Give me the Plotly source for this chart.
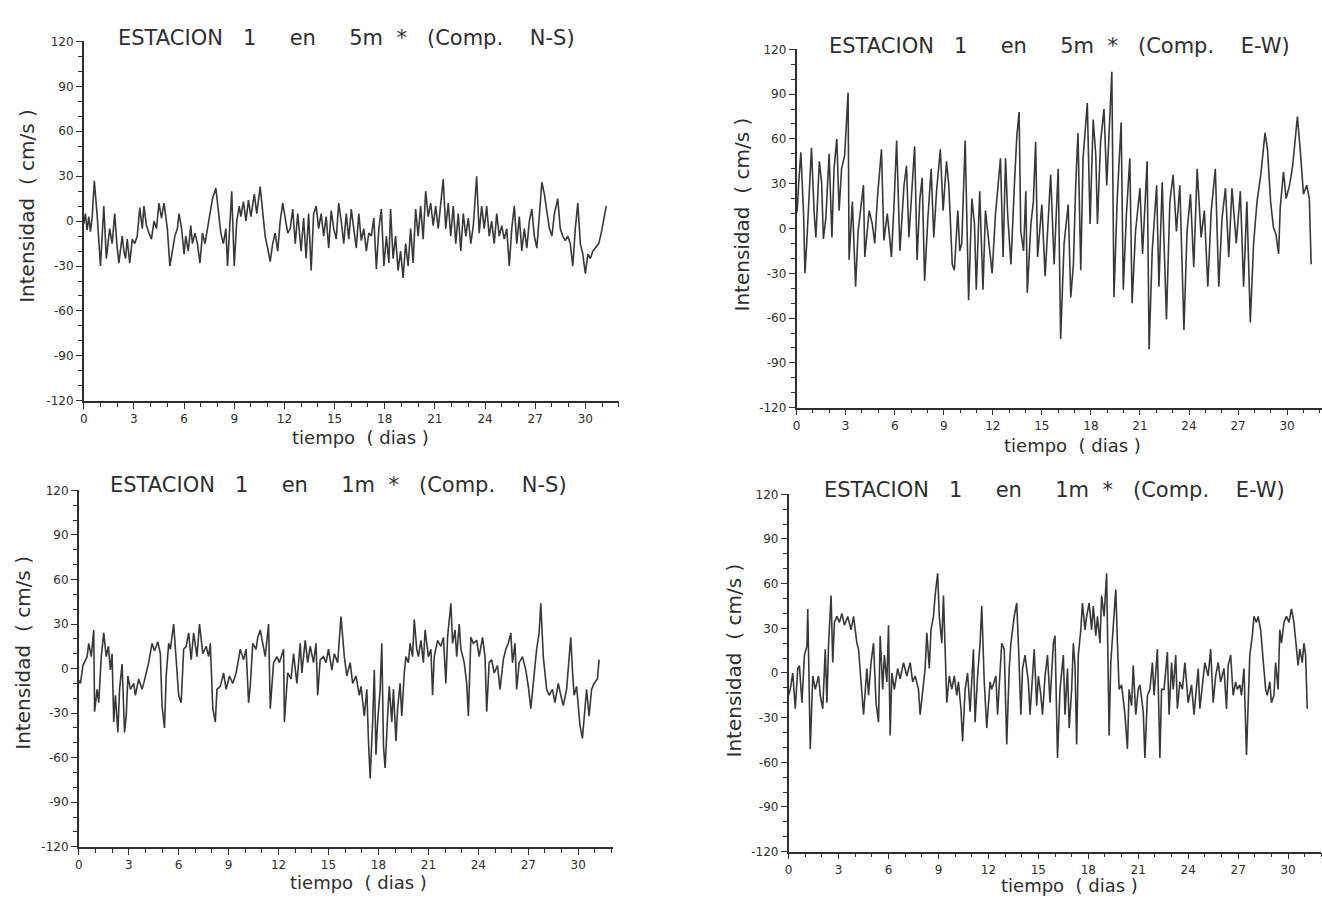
import plotly.graph_objects as go

# Estación 1, 5 m, componente N-S
dias_5m_ns = [0.0, 0.1, 0.2, 0.3, 0.4, 0.5, 0.63, 0.8, 1.0, 1.2, 1.35, 1.55, 1.7, 1.85, 2.0, 2.1, 2.3, 2.4, 2.5, 2.6,
              2.75, 2.9, 3.05, 3.2, 3.35, 3.5, 3.6, 3.75, 3.9, 4.05, 4.2, 4.35, 4.5, 4.65, 4.8, 5.0, 5.15, 5.3, 5.45, 5.6,
              5.7, 5.85, 6.0, 6.1, 6.25, 6.4, 6.5, 6.65, 6.8, 6.95, 7.1, 7.25, 7.4, 7.55, 7.7, 7.9, 8.05, 8.2, 8.35, 8.5,
              8.6, 8.75, 8.85, 9.0, 9.15, 9.3, 9.4, 9.55, 9.7, 9.85, 10.0, 10.2, 10.35, 10.55, 10.7, 10.85, 11.0, 11.15, 11.3, 11.45,
              11.6, 11.75, 11.9, 12.05, 12.2, 12.35, 12.5, 12.65, 12.8, 13.0, 13.15, 13.3, 13.45, 13.6, 13.75, 13.9, 14.05, 14.2, 14.35, 14.5,
              14.65, 14.8, 14.95, 15.1, 15.25, 15.4, 15.55, 15.7, 15.85, 16.0, 16.15, 16.3, 16.45, 16.6, 16.75, 16.9, 17.05, 17.2, 17.35, 17.5,
              17.65, 17.8, 17.95, 18.1, 18.25, 18.35, 18.5, 18.65, 18.8, 18.95, 19.1, 19.25, 19.4, 19.55, 19.7, 19.85, 20.0, 20.15, 20.3, 20.45,
              20.6, 20.75, 20.9, 21.05, 21.2, 21.35, 21.5, 21.65, 21.8, 21.95, 22.1, 22.25, 22.4, 22.55, 22.7, 22.85, 23.0, 23.15, 23.3, 23.5,
              23.65, 23.8, 23.95, 24.1, 24.25, 24.4, 24.55, 24.7, 24.85, 25.0, 25.15, 25.3, 25.45, 25.6, 25.75, 25.9, 26.05, 26.2, 26.35, 26.5,
              26.65, 26.8, 26.95, 27.1, 27.25, 27.4, 27.55, 27.7, 27.85, 28.0, 28.15, 28.35, 28.5, 28.65, 28.8, 28.95, 29.1, 29.25, 29.4, 29.55,
              29.7, 29.85, 30.0, 30.15, 30.3, 30.45, 30.6, 30.8, 30.95, 31.1, 31.25]
vel_5m_ns = [-2, 5, -6, 3, -7, 2, 27, 4, -30, 10, -25, -5, -15, 5, -18, -28, -10, -20, -25, -12,
             -28, -12, -15, -10, 9, -5, 10, -3, -8, -12, 0, -5, 12, 2, 12, -5, -30, -20, -10, -5,
             5, -5, -22, -10, -20, -3, -15, -8, -15, -28, -8, -15, -5, 5, 15, 22, 5, -8, -15, -5,
             -30, 0, 20, -30, 0, 10, 3, 13, 0, 14, 3, 18, 5, 23, 5, -10, -18, -27, -15, -8,
             -20, 0, 12, 2, -8, -5, 8, -15, 5, -20, 2, -25, 5, -33, 5, 10, -5, 5, -10, 3,
             -18, 7, -5, -12, 12, 0, -15, 5, -12, 8, -5, -18, 5, -13, -5, -20, -8, -10, 2, -32,
             -5, 8, -30, -10, -28, 8, -25, -10, -33, -20, -38, -15, -30, -5, -28, 8, -10, 10, -12, 20,
             3, 12, -3, 10, -5, 12, 28, -5, 12, -10, 10, -15, 5, -20, 5, -10, 2, -15, -3, 30,
             -8, 10, -5, 10, -10, 0, -15, 5, -10, -3, -12, -5, -30, -5, 10, -15, 3, -20, -5, -18,
             0, 8, -10, -18, 5, 26, 18, 5, -5, -10, 5, 15, -5, -10, -13, -10, -15, -30, -5, 12,
             -15, -22, -35, -22, -25, -20, -18, -15, -8, 0, 10]

# Estación 1, 5 m, componente E-W
dias_5m_ew = [0.0, 0.05, 0.12, 0.26, 0.43, 0.51, 0.62, 0.77, 0.91, 1.08, 1.18, 1.39, 1.53, 1.64, 1.79, 1.99, 2.16, 2.29, 2.46, 2.6,
              2.75, 2.94, 3.15, 3.21, 3.41, 3.61, 3.76, 4.09, 4.17, 4.44, 4.63, 4.78, 4.94, 5.19, 5.34, 5.55, 5.8, 5.95, 6.12, 6.32,
              6.57, 6.72, 6.87, 7.07, 7.22, 7.37, 7.54, 7.68, 7.83, 8.03, 8.23, 8.39, 8.56, 8.79, 8.96, 9.17, 9.31, 9.52, 9.65, 9.86,
              9.98, 10.1, 10.31, 10.52, 10.72, 10.88, 10.99, 11.2, 11.4, 11.55, 11.75, 11.96, 12.16, 12.3, 12.47, 12.63, 12.78, 12.91, 13.11, 13.32,
              13.47, 13.61, 13.71, 13.88, 14.02, 14.11, 14.33, 14.48, 14.62, 14.74, 15.0, 15.2, 15.41, 15.54, 15.75, 16.0, 16.15, 16.36, 16.61, 16.77,
              16.93, 17.07, 17.21, 17.38, 17.52, 17.78, 17.95, 18.14, 18.3, 18.4, 18.59, 18.8, 18.97, 19.1, 19.28, 19.41, 19.61, 19.85, 19.98, 20.17,
              20.38, 20.52, 20.73, 21.0, 21.16, 21.44, 21.56, 21.75, 22.02, 22.16, 22.36, 22.62, 22.83, 23.03, 23.23, 23.44, 23.69, 23.88, 24.09, 24.29,
              24.5, 24.74, 24.94, 25.15, 25.36, 25.61, 25.82, 26.02, 26.23, 26.43, 26.63, 26.89, 27.14, 27.34, 27.54, 27.75, 27.95, 28.16, 28.39, 28.65,
              28.8, 28.99, 29.16, 29.32, 29.48, 29.58, 29.78, 29.94, 30.15, 30.34, 30.63, 30.8, 31.0, 31.2, 31.36, 31.47]
vel_5m_ew = [10, 14, 29, 51, 9, -30, -10, 29, 54, 9, -6, 45, 31, -7, 7, 50, -6, 40, 60, 12,
             40, 49, 91, -21, 18, -39, -2, 29, -19, 12, 3, -10, 20, 53, -8, 10, -19, 14, 59, -15,
             29, 42, -6, 29, 55, -21, 20, 34, -35, 7, 40, -6, 25, 53, 12, 45, 29, -24, -28, 12,
             -15, -10, 59, -48, 20, 3, -41, 25, -41, 12, -10, -30, 9, 27, 47, -19, 47, 9, -24, 29,
             62, 78, -2, -15, 25, -43, 3, 18, 58, -19, 16, -32, 14, 36, -24, 40, -74, -10, 16, -46,
             -24, 29, 64, -28, 47, 84, 3, 73, 49, 3, 58, 80, 29, 62, 105, -46, 20, 71, -41, 9,
             47, -50, -2, 27, -17, 45, -81, -15, 29, -39, 31, -61, 18, 36, -2, 29, -68, -2, 23, -26,
             40, -6, 12, -39, 12, 40, -39, 7, 27, -19, 27, -10, 25, -39, 18, -63, -10, 18, 36, 64,
             53, 18, 1, -4, -17, 14, 38, 20, 29, 42, 75, 53, 23, 29, 20, -24]

# Estación 1, 1 m, componente N-S
dias_1m_ns = [0.0, 0.1, 0.25, 0.5, 0.6, 0.75, 0.9, 0.95, 1.1, 1.2, 1.35, 1.5, 1.65, 1.78, 1.9, 2.0, 2.1, 2.2, 2.35, 2.45,
              2.6, 2.75, 2.85, 2.95, 3.1, 3.3, 3.4, 3.6, 3.8, 3.9, 4.2, 4.4, 4.55, 4.75, 4.9, 5.0, 5.15, 5.25, 5.4, 5.5,
              5.7, 5.8, 6.0, 6.15, 6.3, 6.45, 6.6, 6.75, 6.9, 7.1, 7.25, 7.45, 7.65, 7.8, 7.9, 8.05, 8.2, 8.3, 8.5, 8.7,
              8.85, 9.05, 9.25, 9.45, 9.7, 9.9, 10.05, 10.2, 10.3, 10.45, 10.65, 10.75, 10.9, 11.05, 11.2, 11.4, 11.5, 11.7, 11.9, 12.05,
              12.3, 12.35, 12.55, 12.75, 12.9, 13.1, 13.3, 13.4, 13.6, 13.75, 13.9, 14.1, 14.25, 14.35, 14.5, 14.7, 14.85, 15.0, 15.2, 15.35,
              15.55, 15.75, 15.95, 16.1, 16.3, 16.45, 16.65, 16.85, 16.95, 17.15, 17.3, 17.4, 17.5, 17.65, 17.75, 17.85, 17.95, 18.1, 18.2, 18.3,
              18.4, 18.55, 18.65, 18.8, 18.9, 19.05, 19.15, 19.3, 19.4, 19.55, 19.65, 19.8, 19.9, 20.05, 20.15, 20.3, 20.4, 20.55, 20.7, 20.8,
              21.0, 21.15, 21.25, 21.35, 21.55, 21.75, 21.9, 22.05, 22.15, 22.35, 22.45, 22.6, 22.7, 22.85, 22.95, 23.15, 23.3, 23.4, 23.55, 23.7,
              23.9, 24.05, 24.25, 24.4, 24.5, 24.65, 24.8, 24.95, 25.15, 25.3, 25.5, 25.65, 25.8, 25.95, 26.05, 26.2, 26.3, 26.45, 26.65, 26.85,
              27.0, 27.15, 27.35, 27.5, 27.65, 27.75, 27.9, 28.1, 28.25, 28.45, 28.6, 28.8, 28.95, 29.1, 29.3, 29.45, 29.55, 29.65, 29.75, 29.9,
              30.0, 30.1, 30.25, 30.4, 30.5, 30.65, 30.8, 30.95, 31.15, 31.25]
vel_1m_ns = [-8, -10, 2, 8, 17, 8, 26, -29, -14, -23, 8, 24, 8, 15, -1, 10, -36, -18, -43, -14,
             3, -43, -32, -5, -14, -10, -18, -7, -14, -10, 4, 17, 12, 18, 10, -25, -40, -5, 17, 13,
             30, 15, -18, -23, 13, 15, 24, 6, 24, 8, 30, 10, 15, 8, 17, -27, -36, -14, -12, -3,
             -14, -5, -10, -3, 13, 6, 13, -23, -12, 17, 13, 21, 26, 17, 8, 30, -27, 4, 8, 4,
             13, -36, -3, -7, 10, -10, 17, -3, 19, 4, 15, 4, 17, -18, 6, 8, 4, 13, -1, 10,
             4, 35, 8, -5, 4, -10, -5, -18, -12, -32, -14, -49, -74, -36, -1, -58, -36, -14, 17, -52,
             -67, -32, -12, -36, -14, -49, -27, -10, -32, -3, 8, 4, 17, 8, 33, 13, 8, 19, 4, 26,
             8, 13, -18, 8, 19, 15, 21, -10, 21, 44, 17, 26, 8, 30, 13, 4, -10, -32, 21, 17,
             19, 8, 21, 8, -29, 4, 6, -3, 2, -14, 6, 13, 17, 24, 4, 17, -14, 4, 8, -1,
             -12, -27, -1, 13, 24, 44, 8, -14, -18, -14, -23, -10, -18, -25, -14, 4, 21, -1, -18, -12,
             -27, -38, -47, -27, -14, -32, -14, -10, -7, 6]

# Estación 1, 1 m, componente E-W
dias_1m_ew = [0.0, 0.1, 0.25, 0.4, 0.55, 0.65, 0.8, 0.95, 1.1, 1.15, 1.3, 1.45, 1.6, 1.8, 1.9, 2.05, 2.2, 2.3, 2.4, 2.55,
              2.65, 2.75, 2.9, 3.05, 3.2, 3.35, 3.55, 3.75, 3.9, 4.1, 4.2, 4.4, 4.5, 4.7, 4.8, 4.95, 5.1, 5.25, 5.4, 5.5,
              5.65, 5.75, 5.9, 6.0, 6.1, 6.2, 6.35, 6.55, 6.7, 6.9, 7.1, 7.3, 7.45, 7.6, 7.8, 7.9, 8.05, 8.2, 8.3, 8.45,
              8.55, 8.7, 8.8, 8.95, 9.05, 9.2, 9.3, 9.45, 9.5, 9.65, 9.8, 9.95, 10.1, 10.2, 10.35, 10.45, 10.6, 10.75, 10.9, 11.1,
              11.2, 11.35, 11.5, 11.6, 11.75, 11.9, 12.1, 12.2, 12.45, 12.55, 12.7, 12.8, 12.95, 13.1, 13.25, 13.35, 13.55, 13.7, 13.8, 13.95,
              14.05, 14.2, 14.4, 14.5, 14.65, 14.75, 14.9, 15.0, 15.15, 15.25, 15.4, 15.55, 15.7, 15.9, 16.0, 16.15, 16.3, 16.5, 16.6, 16.75,
              16.85, 17.0, 17.1, 17.2, 17.3, 17.4, 17.55, 17.65, 17.8, 17.9, 18.05, 18.2, 18.3, 18.45, 18.55, 18.7, 18.8, 18.95, 19.1, 19.25,
              19.35, 19.5, 19.65, 19.75, 19.85, 20.0, 20.2, 20.35, 20.45, 20.6, 20.7, 20.85, 21.0, 21.1, 21.3, 21.4, 21.55, 21.7, 21.85, 21.95,
              22.15, 22.3, 22.4, 22.55, 22.75, 22.85, 23.0, 23.1, 23.25, 23.35, 23.5, 23.65, 23.8, 24.0, 24.2, 24.35, 24.45, 24.6, 24.7, 24.85,
              25.0, 25.2, 25.35, 25.5, 25.65, 25.8, 25.95, 26.15, 26.3, 26.4, 26.55, 26.7, 26.85, 26.95, 27.1, 27.2, 27.35, 27.5, 27.6, 27.7,
              27.85, 27.95, 28.1, 28.2, 28.35, 28.5, 28.65, 28.75, 28.9, 29.0, 29.15, 29.25, 29.4, 29.5, 29.6, 29.75, 29.9, 30.05, 30.2, 30.35,
              30.45, 30.6, 30.7, 30.85, 30.95, 31.05, 31.15]
vel_1m_ew = [-15, -11, 0, -24, 3, 5, -20, 12, 18, 43, -51, -2, -11, -2, -15, -24, 16, -20, 20, 52,
             7, 34, 38, 34, 40, 32, 38, 29, 38, 20, 16, -15, -28, 3, -15, 7, 20, -20, -33, 25,
             -11, 12, -6, 32, -42, 0, -11, 3, -4, 7, -2, 7, -6, -2, -11, -28, -11, 3, 27, 3,
             29, 38, 52, 67, 38, 20, 52, -2, -20, -2, -11, -2, -15, -6, -24, -46, -11, 0, -26, 16,
             -33, -2, 20, 45, -6, -37, -6, -11, -2, -28, 3, 20, 16, -48, 3, 20, 38, 47, 20, -28,
             3, 12, -6, -28, -2, 16, -22, -2, -15, -28, -2, 12, -20, 20, 25, -57, -11, 12, -28, 3,
             -37, -11, 20, 5, -48, 12, 29, 47, 29, 38, 47, 29, 45, 25, 38, 20, 52, 38, 67, -42,
             7, 29, 56, 20, -11, -8, -28, -51, -11, -22, 5, -28, -11, -8, -26, -57, -15, -11, 7, -15,
             16, -57, -11, -11, 14, -28, 7, -11, 12, -24, -6, -11, 7, -20, -8, -28, -15, 3, -24, -8,
             7, -2, 16, -20, -2, 7, -6, 3, -24, 5, 12, -15, -6, -11, -8, -15, 3, -55, -15, 12,
             25, 38, 34, 38, 29, 7, -11, -15, -6, -20, -15, 7, -11, 29, 20, 34, 38, 34, 43, 34,
             20, 5, 16, 7, 20, 12, -24]

ticks_dias = [0, 3, 6, 9, 12, 15, 18, 21, 24, 27, 30]
etiquetas_dias = ["0", "3", "6", "9", "12", "15", "18", "21", "24", "27", "30"]
ticks_vel = [-120, -90, -60, -30, 0, 30, 60, 90, 120]
etiquetas_vel = ["-120", "-90", "-60", "-30", "0", "30", "60", "90", "120"]

NB = "\u00a0"
def sp(n):
    return NB * n

titulos = [
    "ESTACION" + sp(3) + "1" + sp(5) + "en" + sp(5) + "5m" + sp(2) + "*" + sp(3) + "(Comp." + sp(4) + "N-S)",
    "ESTACION" + sp(3) + "1" + sp(5) + "en" + sp(5) + "5m" + sp(2) + "*" + sp(3) + "(Comp." + sp(4) + "E-W)",
    "ESTACION" + sp(3) + "1" + sp(5) + "en" + sp(5) + "1m" + sp(2) + "*" + sp(3) + "(Comp." + sp(4) + "N-S)",
    "ESTACION" + sp(3) + "1" + sp(5) + "en" + sp(5) + "1m" + sp(2) + "*" + sp(3) + "(Comp." + sp(4) + "E-W)",
]
titulo_x = "tiempo" + sp(2) + "(" + sp(1) + "dias" + sp(1) + ")"
titulo_y = "Intensidad" + sp(2) + "(" + sp(1) + "cm/s" + sp(1) + ")"

W, H = 1322, 901
TINTA = "#2e2e2e"
FUENTE = "DejaVu Sans"

# pixel frame of each panel: axis origin x, px per day, top (120) y, bottom (-120) y
paneles = [
    dict(dias=dias_5m_ns, vel=vel_5m_ns, x0=80, ppd=16.77, xmax=32.0, ytop=35, ybot=400,
         tit_x=112, tit_y=31, ax_x=358, ax_y=437, ay_x=23, ay_y=202),
    dict(dias=dias_5m_ew, vel=vel_5m_ew, x0=795, ppd=16.4, xmax=32.13, ytop=43, ybot=407,
         tit_x=825, tit_y=40, ax_x=1072, ax_y=445, ay_x=740, ay_y=211),
    dict(dias=dias_1m_ns, vel=vel_1m_ns, x0=75, ppd=16.7, xmax=32.1, ytop=491, ybot=853,
         tit_x=104, tit_y=486, ax_x=356, ax_y=889, ay_x=19, ay_y=656),
    dict(dias=dias_1m_ew, vel=vel_1m_ew, x0=787, ppd=16.7, xmax=32.0, ytop=495, ybot=858,
         tit_x=820, tit_y=491, ax_x=1069, ax_y=892, ay_x=732, ay_y=664),
]

fig = go.Figure()
annotations = []
layout_axes = {}

for i, p in enumerate(paneles, start=1):
    xs = "x" if i == 1 else f"x{i}"
    ys = "y" if i == 1 else f"y{i}"
    fig.add_trace(go.Scatter(x=p["dias"], y=p["vel"], mode="lines", xaxis=xs, yaxis=ys,
                             line=dict(color="#383838", width=1.6), showlegend=False,
                             hoverinfo="skip"))
    x_end = min(p["x0"] + p["xmax"] * p["ppd"], W)
    xdom = [p["x0"] / W, x_end / W]
    ydom = [1 - p["ybot"] / H, 1 - p["ytop"] / H]
    xkey = "xaxis" if i == 1 else f"xaxis{i}"
    ykey = "yaxis" if i == 1 else f"yaxis{i}"
    layout_axes[xkey] = dict(
        domain=xdom, range=[0, (x_end - p["x0"]) / p["ppd"]], anchor=ys,
        showline=True, linecolor=TINTA, linewidth=1.6, mirror=False,
        showgrid=False, zeroline=False,
        tickmode="array", tickvals=ticks_dias, ticktext=etiquetas_dias,
        ticks="outside", ticklen=6, tickwidth=1.3, tickcolor=TINTA,
        tickfont=dict(family=FUENTE, size=12, color=TINTA),
        minor=dict(tickmode="linear", tick0=0, dtick=1, ticks="outside", ticklen=4,
                   tickwidth=1.1, tickcolor=TINTA, showgrid=False),
    )
    layout_axes[ykey] = dict(
        domain=ydom, range=[-120, 120], anchor=xs,
        showline=True, linecolor=TINTA, linewidth=1.6, mirror=False,
        showgrid=False, zeroline=False,
        tickmode="array", tickvals=ticks_vel, ticktext=etiquetas_vel,
        ticks="outside", ticklen=6, tickwidth=1.3, tickcolor=TINTA,
        tickfont=dict(family=FUENTE, size=12, color=TINTA),
        minor=dict(tickmode="linear", tick0=0, dtick=10, ticks="outside", ticklen=4,
                   tickwidth=1.1, tickcolor=TINTA, showgrid=False),
    )
    annotations.append(dict(text=titulos[i - 1], xref="paper", yref="paper",
                            x=p["tit_x"] / W, y=1 - p["tit_y"] / H, xanchor="left", yanchor="middle",
                            showarrow=False, font=dict(family=FUENTE, size=21, color=TINTA)))
    annotations.append(dict(text=titulo_x, xref="paper", yref="paper",
                            x=p["ax_x"] / W, y=1 - p["ax_y"] / H, xanchor="center", yanchor="middle",
                            showarrow=False, font=dict(family=FUENTE, size=18, color=TINTA)))
    annotations.append(dict(text=titulo_y, xref="paper", yref="paper", textangle=-90,
                            x=p["ay_x"] / W, y=1 - p["ay_y"] / H, xanchor="center", yanchor="middle",
                            showarrow=False, font=dict(family=FUENTE, size=20, color=TINTA)))

fig.update_layout(
    width=W, height=H, margin=dict(l=0, r=0, t=0, b=0),
    paper_bgcolor="white", plot_bgcolor="white",
    annotations=annotations, **layout_axes,
)

fig.write_html("out.html")
